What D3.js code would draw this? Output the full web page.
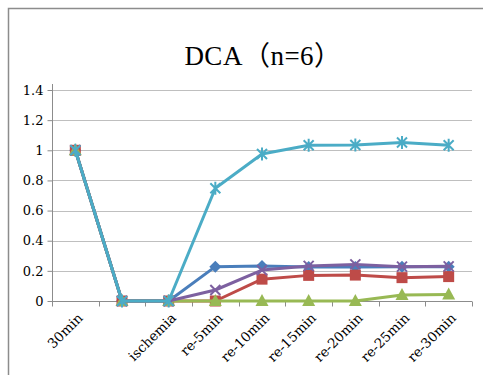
<!DOCTYPE html>
<html><head><meta charset="utf-8">
<script src="https://cdn.jsdelivr.net/npm/d3@7"></script>
<style>body{margin:0;background:#fff}svg{display:block}</style>
</head><body><svg id="c" width="483" height="375"></svg>
<script>
const categories = ["30min", "", "ischemia", "re-5min", "re-10min", "re-15min", "re-20min", "re-25min", "re-30min"];
const yTicks = [0, 0.2, 0.4, 0.6, 0.8, 1, 1.2, 1.4];
const blueVals   = [1, 0, 0, 0.228, 0.233, 0.225, 0.225, 0.228, 0.228];
const redVals    = [1, 0, 0, 0, 0.145, 0.17, 0.172, 0.155, 0.162];
const greenVals  = [1, 0, 0, 0, 0, 0, 0, 0.04, 0.043];
const purpleVals = [1, 0, 0, 0.073, 0.205, 0.233, 0.243, 0.228, 0.23];
const cyanVals   = [1, 0, 0, 0.748, 0.975, 1.033, 1.035, 1.052, 1.033];
const seriesNames = ["s1", "s2", "s3", "s4", "s5"];
const seriesColors = ["#4A7EBB", "#BE4B48", "#98B954", "#7D60A0", "#4BACC6"];
const seriesShapes = ["diamond", "square", "triangle", "x", "star"];
const seriesValues = [blueVals, redVals, greenVals, purpleVals, cyanVals];

const svg = d3.select("#c");
const serif = "'Liberation Serif','DejaVu Serif','Noto Sans CJK JP',serif";
const tickFont = "'DejaVu Serif','Liberation Serif',serif";

svg.append("rect").attr("x", 8.5).attr("y", 8.5).attr("width", 520).attr("height", 420)
  .attr("fill", "#fff").attr("stroke", "#8c8c8c").attr("stroke-width", 1.5);

svg.append("text").attr("x", 263).attr("y", 65).attr("text-anchor", "middle")
  .attr("font-family", serif).attr("font-size", 27).attr("fill", "#000")
  .attr("letter-spacing", 0.5).text("DCA（n=6）");

const x = d3.scaleBand().domain(d3.range(categories.length)).range([52, 472]).padding(0);
const y = d3.scaleLinear().domain([0, 1.4]).range([301, 90]);

// gridlines
svg.append("g").selectAll("line").data(yTicks.filter(d => d > 0)).join("line")
  .attr("x1", 52).attr("x2", 472).attr("y1", d => Math.round(y(d)) + 0.5).attr("y2", d => Math.round(y(d)) + 0.5)
  .attr("stroke", "#bfbfbf").attr("stroke-width", 1.2);

// y axis
const ya = svg.append("g").attr("transform", "translate(52.5,0)")
  .call(d3.axisLeft(y).tickValues(yTicks).tickSize(5).tickFormat(d => String(d)));
ya.select(".domain").attr("stroke", "#8c8c8c").attr("d", `M0,84V${y(0)}`);
ya.selectAll(".tick line").attr("stroke", "#8c8c8c");
ya.selectAll(".tick text").attr("font-family", tickFont).attr("font-size", 13).attr("fill", "#000").attr("x", -9);

// x axis
const xa = svg.append("g").attr("transform", `translate(0,${Math.round(y(0)) + 0.5})`);
xa.append("line").attr("x1", 52).attr("x2", 472).attr("stroke", "#8c8c8c").attr("stroke-width", 1.2);
xa.selectAll("line.t").data(d3.range(categories.length + 1)).join("line").attr("class", "t")
  .attr("x1", i => Math.round(52 + i * x.bandwidth()) + 0.5).attr("x2", i => Math.round(52 + i * x.bandwidth()) + 0.5)
  .attr("y1", 0).attr("y2", 5).attr("stroke", "#8c8c8c");
xa.selectAll("text").data(categories).join("text")
  .attr("transform", (d, i) => `translate(${x(i) + x.bandwidth() / 2 + 5},14) rotate(-45)`)
  .attr("text-anchor", "end").attr("dy", "0.35em")
  .attr("font-family", tickFont).attr("font-size", 13.5).attr("fill", "#000").text(d => d);

const line = d3.line().x((d, i) => x(i) + x.bandwidth() / 2).y(d => y(d));

function marker(g, shape, color) {
  if (shape === "diamond") g.append("path").attr("d", "M0,-6L6,0L0,6L-6,0Z").attr("fill", color);
  else if (shape === "square") g.append("rect").attr("x", -5.5).attr("y", -5.5).attr("width", 11).attr("height", 11).attr("fill", color);
  else if (shape === "triangle") g.append("path").attr("d", "M0,-7L6.5,5L-6.5,5Z").attr("fill", color);
  else if (shape === "x") g.append("path").attr("d", "M-5,-5L5,5M-5,5L5,-5").attr("stroke", color).attr("stroke-width", 2);
  else if (shape === "star") g.append("path").attr("d", "M-5,-5L5,5M-5,5L5,-5M0,-6.5L0,6.5").attr("stroke", color).attr("stroke-width", 2);
}

seriesValues.forEach((vals, si) => {
  const g = svg.append("g").attr("class", seriesNames[si]);
  g.append("path").datum(vals).attr("d", line).attr("fill", "none")
    .attr("stroke", seriesColors[si]).attr("stroke-width", 3).attr("stroke-linejoin", "round");
  vals.forEach((v, i) => {
    const m = g.append("g").attr("transform", `translate(${x(i) + x.bandwidth() / 2},${y(v)})`);
    marker(m, seriesShapes[si], seriesColors[si]);
  });
});
</script></body></html>
